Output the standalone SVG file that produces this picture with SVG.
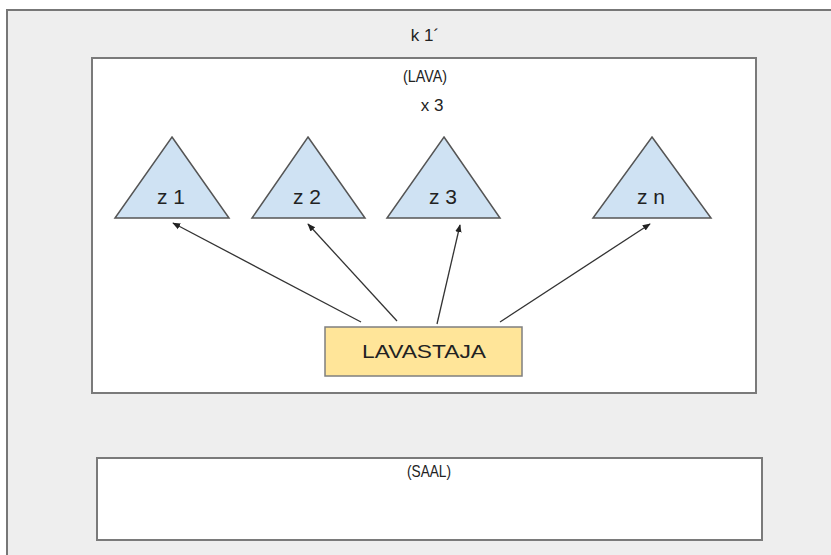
<svg xmlns="http://www.w3.org/2000/svg" width="831" height="555" viewBox="0 0 831 555">
<defs>
<marker id="ah" viewBox="0 0 10 10" refX="9" refY="5" markerWidth="8" markerHeight="8" markerUnits="userSpaceOnUse" orient="auto">
<path d="M0,1 L10,5 L0,9 Z" fill="#222"/>
</marker>
</defs>
<style>
text{font-family:"Liberation Sans",Arial,sans-serif;fill:#222;text-anchor:middle}
.box{fill:#ffffff;stroke:#7a7a7a;stroke-width:2}
.tri{fill:#cfe2f3;stroke:#555;stroke-width:1.5;stroke-linejoin:miter}
.conn{stroke:#333;stroke-width:1.3;fill:none;marker-end:url(#ah)}
.t17{font-size:17px}
.t16{font-size:17px}
.t18{font-size:19px}
.t21{font-size:21px}
</style>
<rect width="831" height="555" fill="#ffffff"/>
<g id="k1">
<rect x="7" y="10" width="840" height="560" fill="#eeeeee" stroke="#777" stroke-width="2"/>
<text x="425" y="41" class="t17">k 1´</text>
</g>
<g id="lava">
<rect class="box" x="92" y="58" width="664" height="335"/>
<text x="425" y="82" class="t16" textLength="44" lengthAdjust="spacingAndGlyphs">(LAVA)</text>
<text x="432" y="111" class="t17">x 3</text>
</g>
<g id="saal">
<rect class="box" x="97" y="458" width="665" height="82"/>
<text x="429" y="477" class="t16" textLength="44" lengthAdjust="spacingAndGlyphs">(SAAL)</text>
</g>
<g id="z1">
<polygon class="tri" points="172,137 229,218 115,218"/>
<text x="171" y="204" class="t21">z 1</text>
</g>
<g id="z2">
<polygon class="tri" points="308,137 365,218 252,218"/>
<text x="307" y="204" class="t21">z 2</text>
</g>
<g id="z3">
<polygon class="tri" points="444,137 500,218 387,218"/>
<text x="443" y="204" class="t21">z 3</text>
</g>
<g id="zn">
<polygon class="tri" points="652,137 711,218 593,218"/>
<text x="651" y="204" class="t21">z n</text>
</g>
<g id="lavastaja">
<rect x="325" y="327" width="197" height="49" fill="#ffe599" stroke="#7f7f7f" stroke-width="1.5"/>
<text x="424" y="358" class="t18" textLength="124" lengthAdjust="spacingAndGlyphs">LAVASTAJA</text>
</g>
<g id="connectors">
<line class="conn" x1="361" y1="322" x2="173" y2="223"/>
<line class="conn" x1="397" y1="321" x2="308" y2="224"/>
<line class="conn" x1="437" y1="324" x2="460" y2="225"/>
<line class="conn" x1="500" y1="322" x2="650" y2="224"/>
</g>
</svg>
